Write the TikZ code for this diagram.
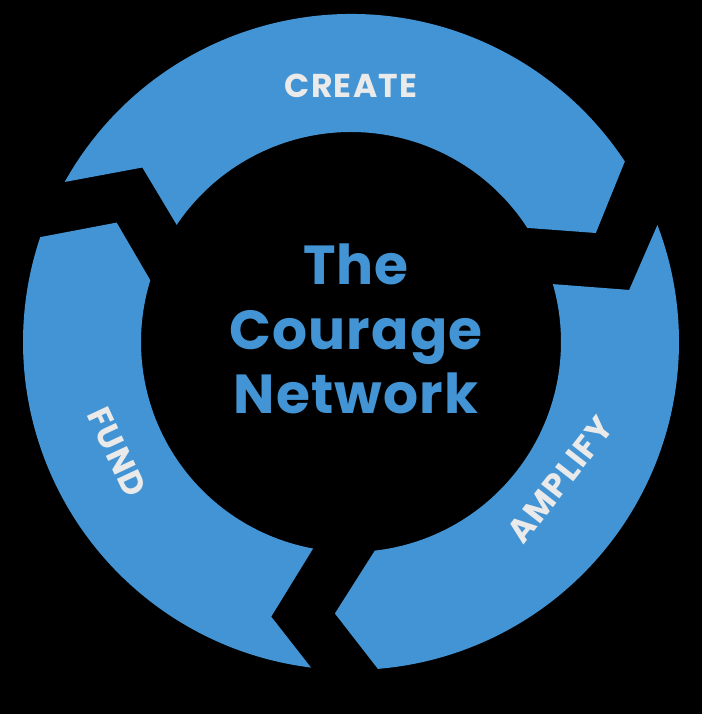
\documentclass[tikz,border=0pt]{standalone}
\usepackage{fontspec}
\setmainfont{Poppins}[BoldFont={* Bold}]
\usetikzlibrary{calc}
\definecolor{ringblue}{RGB}{67,148,212}
\definecolor{labelgray}{RGB}{234,234,234}
\tikzset{
  segment/.style={fill=ringblue},
  ringlabel/.style={text=labelgray, font=\fontsize{33}{33}\selectfont\bfseries\addfontfeature{LetterSpace=4}, inner sep=0pt},
  title/.style={text=ringblue, font=\fontsize{55}{64.5}\selectfont\bfseries\addfontfeature{LetterSpace=2}, align=center, inner sep=0pt}
}
\begin{document}
\begin{tikzpicture}[x=1pt,y=1pt]
\fill[black] (0,0) rectangle (702,714);
\useasboundingbox (0,0) rectangle (702,714);
\begin{scope}[shift={(351,372)}]
% CREATE
\fill[segment] (150.8:328) arc[start angle=150.8, end angle=33.4, radius=328]
  -- (24.0:268) -- (32.9:210) arc[start angle=32.9, end angle=146.1, radius=210]
  -- (140.1:272) -- cycle;
% AMPLIFY
\fill[segment] (20.9:328) arc[start angle=20.9, end angle=-85.3, radius=328]
  -- (-93.4:272) -- (-83.5:210) arc[start angle=-83.5, end angle=16.0, radius=210]
  -- (10.6:283) -- cycle;
% FUND
\fill[segment] (-97.0:328) arc[start angle=-97.0, end angle=-198.65, radius=328]
  -- (-207.0:263) -- (-197.1:210) arc[start angle=-197.1, end angle=-100.4, radius=210]
  -- (-106.2:286) -- cycle;
\end{scope}
\node[ringlabel, anchor=base] (create) at (351,616) {CREATE};
\node[ringlabel, rotate=-65] (fund) at (117,262) {FUND};
\node[ringlabel, rotate=52] (amplify) at (560,234) {AMPLIFY};
\node[title] (name) at (356,385) {The\\Courage\\Network};
\end{tikzpicture}
\end{document}
